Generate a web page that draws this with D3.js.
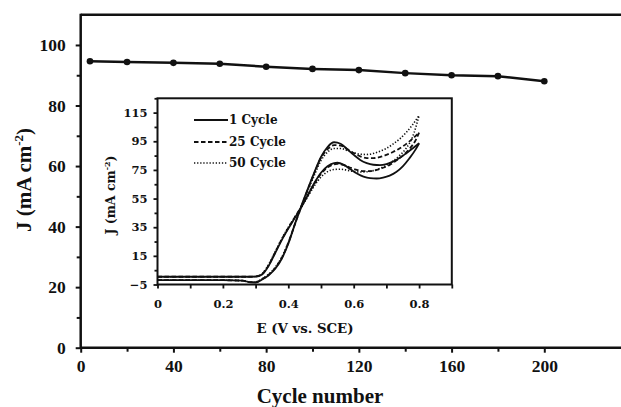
<!DOCTYPE html>
<html>
<head>
<meta charset="utf-8">
<script src="https://cdn.jsdelivr.net/npm/d3@7/dist/d3.min.js"></script>
<style>
html,body{margin:0;padding:0;background:#fff;}
svg{display:block;}
</style>
</head>
<body>
<svg id="chart" width="621" height="407"></svg>
<script>
// ---- Main chart data ----
const cycleNumbers = [4, 20, 40, 60, 80, 100, 120, 140, 160, 180, 200];
const currentDensity = [94.6, 94.4, 94.1, 93.8, 92.8, 92.1, 91.7, 90.7, 90.0, 89.7, 88.0];
const mainXTicks = [0, 40, 80, 120, 160, 200];
const mainYTicks = [0, 20, 40, 60, 80, 100];

// ---- Inset CV data (E in V vs SCE, J in mA cm-2) ----
const cycle1Forward = [[0,-2],[0.1,-2],[0.2,-2],[0.26,-2.3],[0.285,-3.5],[0.30,-3.6],[0.32,-1.5],[0.34,1.5],[0.36,6],[0.38,13],[0.40,23.5],[0.42,37],[0.44,50],[0.46,62],[0.48,73.5],[0.50,84],[0.52,91],[0.54,94.3],[0.56,93.3],[0.58,89.5],[0.60,85.5],[0.62,82],[0.64,79.8],[0.66,78.6],[0.68,78.3],[0.70,79],[0.72,80.8],[0.74,83.3],[0.76,86.5],[0.78,90],[0.80,93.6]];
const cycle1Reverse = [[0,0.4],[0.1,0.4],[0.2,0.4],[0.28,0.4],[0.30,0.5],[0.32,2],[0.34,8],[0.36,17],[0.38,26],[0.40,34],[0.42,41.5],[0.44,49],[0.46,57.5],[0.48,66],[0.50,73],[0.52,77.5],[0.54,79.8],[0.55,80],[0.57,78.5],[0.59,75.5],[0.61,72.5],[0.63,70.3],[0.65,69.2],[0.67,69],[0.69,69.6],[0.71,71],[0.73,73.5],[0.75,77.5],[0.77,83],[0.79,89.5],[0.80,93.6]];
const cycle25Forward = [[0,-2],[0.1,-2],[0.2,-2],[0.26,-2.3],[0.285,-3.4],[0.30,-3.4],[0.32,-1.2],[0.34,1.8],[0.36,6.5],[0.38,13.5],[0.40,24],[0.42,37],[0.44,49.5],[0.46,61.5],[0.48,73],[0.50,83.5],[0.52,89.5],[0.54,92.3],[0.56,92],[0.58,89.5],[0.60,86.8],[0.62,84.5],[0.64,83.3],[0.66,83.2],[0.68,84],[0.70,85.5],[0.72,87.5],[0.74,90],[0.76,93],[0.78,96.8],[0.80,101]];
const cycle25Reverse = [[0,0.4],[0.1,0.4],[0.2,0.4],[0.28,0.4],[0.30,0.6],[0.32,2.3],[0.34,8.5],[0.36,17.5],[0.38,26.5],[0.40,34.5],[0.42,42],[0.44,49.5],[0.46,57.5],[0.48,65.5],[0.50,72.3],[0.52,76.8],[0.54,78.9],[0.55,79.2],[0.57,78.3],[0.59,76.5],[0.61,75],[0.63,74.2],[0.65,74.2],[0.67,75],[0.69,76.5],[0.71,78.5],[0.73,81.5],[0.75,85],[0.77,89.5],[0.79,96],[0.80,101]];
const cycle50Forward = [[0,-2],[0.1,-2],[0.2,-2],[0.26,-2.3],[0.285,-3.3],[0.30,-3.2],[0.32,-1],[0.34,2.2],[0.36,7],[0.38,14],[0.40,24.5],[0.42,37],[0.44,49],[0.46,60.5],[0.48,71.5],[0.50,81.5],[0.52,87.5],[0.54,90],[0.56,90],[0.58,88.5],[0.60,87],[0.62,86],[0.64,85.8],[0.66,86.5],[0.68,88],[0.70,90],[0.72,93],[0.74,96.5],[0.76,101],[0.78,106.5],[0.80,113]];
const cycle50Reverse = [[0,0.4],[0.1,0.4],[0.2,0.4],[0.28,0.4],[0.30,0.7],[0.32,2.6],[0.34,9],[0.36,18],[0.38,27],[0.40,35],[0.42,42],[0.44,49],[0.46,56.5],[0.48,64],[0.50,70],[0.52,73.8],[0.54,75.3],[0.56,75.5],[0.58,74.8],[0.60,73.9],[0.62,73.5],[0.64,73.7],[0.66,74.5],[0.68,76],[0.70,78.2],[0.72,81.2],[0.74,85],[0.76,90],[0.78,98],[0.80,113]];
const insetXTicks = [0, 0.2, 0.4, 0.6, 0.8];
const insetYTicks = [-5, 15, 35, 55, 75, 95, 115];
const legendLabels = ["1 Cycle", "25 Cycle", "50 Cycle"];

const SERIF = "'Liberation Serif','Times New Roman',Times,serif";
const ISERIF = "'DejaVu Serif',serif";

const svg = d3.select("#chart");
svg.append("rect").attr("width",621).attr("height",407).attr("fill","#fff");

// ---- Main scales ----
const x = d3.scaleLinear().domain([0, 235]).range([80.7, 80.7 + 235 * 2.318]);
const y = d3.scaleLinear().domain([0, 110]).range([347.7, 14.7]);

const main = svg.append("g");
main.append("line").attr("x1", x(0)).attr("x2", 621).attr("y1", y(110)).attr("y2", y(110))
  .attr("stroke","#111").attr("stroke-width",2.5);

function styleText(sel, family, size){
  sel.attr("font-family",family).attr("font-weight","bold").attr("font-size",size).attr("fill","#111");
}

// x axis
const xAxis = d3.axisBottom(x).tickValues(mainXTicks).tickSize(5).tickFormat(d3.format("d"));
const gx = main.append("g").attr("transform",`translate(0,${y(0)})`).call(xAxis);
gx.select(".domain").attr("stroke","#111").attr("stroke-width",2.5).attr("d",`M${x(0)},0H621`);
gx.selectAll(".tick line").attr("stroke","#111").attr("stroke-width",2);
styleText(gx.selectAll(".tick text").attr("dy","0.95em"), SERIF, 17.5);
const xMinor = d3.axisBottom(x).tickValues([20,60,100,140,180]).tickSize(4).tickFormat("");
const gxm = main.append("g").attr("transform",`translate(0,${y(0)})`).call(xMinor);
gxm.select(".domain").remove();
gxm.selectAll(".tick line").attr("stroke","#111").attr("stroke-width",2);

// y axis
const yAxis = d3.axisLeft(y).tickValues(mainYTicks).tickSize(5).tickFormat(d3.format("d"));
const gy = main.append("g").attr("transform",`translate(${x(0)},0)`).call(yAxis);
gy.select(".domain").attr("stroke","#111").attr("stroke-width",2.5).attr("d",`M0,${y(0)+1}V${y(110)-1}`);
gy.selectAll(".tick line").attr("stroke","#111").attr("stroke-width",2);
styleText(gy.selectAll(".tick text").attr("x",-15), SERIF, 17.5);
const yMinor = d3.axisLeft(y).tickValues([10,30,50,70,90]).tickSize(4).tickFormat("");
const gym = main.append("g").attr("transform",`translate(${x(0)},0)`).call(yMinor);
gym.select(".domain").remove();
gym.selectAll(".tick line").attr("stroke","#111").attr("stroke-width",2);

// axis titles
const xt = svg.append("text").attr("x",320).attr("y",403).attr("text-anchor","middle").text("Cycle number");
styleText(xt, SERIF, 21);
const yt = svg.append("text").attr("transform","translate(31,180) rotate(-90)").attr("text-anchor","middle");
styleText(yt, SERIF, 21);
yt.append("tspan").text("J (mA cm");
yt.append("tspan").attr("font-size",13).attr("dy",-8).text("-2");
yt.append("tspan").attr("dy",8).text(")");

// main line + markers
const mainData = cycleNumbers.map((c,i)=>({c, j: currentDensity[i]}));
main.append("path").datum(mainData)
  .attr("fill","none").attr("stroke","#111").attr("stroke-width",2.5)
  .attr("d", d3.line().x(d=>x(d.c)).y(d=>y(d.j)));
main.selectAll("circle.pt").data(mainData).enter().append("circle")
  .attr("cx",d=>x(d.c)).attr("cy",d=>y(d.j)).attr("r",3.3).attr("fill","#111");

// ---- Inset ----
const ix = d3.scaleLinear().domain([0, 0.9]).range([157.5, 451.8]);
const iy = d3.scaleLinear().domain([-5, 125]).range([284.5, 98.3]);
const inset = svg.append("g");
inset.append("rect").attr("x",ix(0)).attr("y",iy(125)).attr("width",ix(0.9)-ix(0)).attr("height",iy(-5)-iy(125))
  .attr("fill","#fff").attr("stroke","#111").attr("stroke-width",2);

const ixAxis = d3.axisBottom(ix).tickValues(insetXTicks).tickSize(4).tickFormat(d=> d===0 ? "0" : d3.format(".1f")(d));
const gix = inset.append("g").attr("transform",`translate(0,${iy(-5)})`).call(ixAxis);
gix.select(".domain").remove();
gix.selectAll(".tick line").attr("stroke","#111").attr("stroke-width",1.8);
styleText(gix.selectAll(".tick text").attr("dy","1.45em"), ISERIF, 11.5);
const ixMinor = d3.axisBottom(ix).tickValues([0.1,0.3,0.5,0.7,0.9]).tickSize(4).tickFormat("");
const gixm = inset.append("g").attr("transform",`translate(0,${iy(-5)})`).call(ixMinor);
gixm.select(".domain").remove();
gixm.selectAll(".tick line").attr("stroke","#111").attr("stroke-width",1.8);

const iyAxis = d3.axisLeft(iy).tickValues(insetYTicks).tickSize(4);
const giy = inset.append("g").attr("transform",`translate(${ix(0)},0)`).call(iyAxis);
giy.select(".domain").remove();
giy.selectAll(".tick line").attr("stroke","#111").attr("stroke-width",1.8);
styleText(giy.selectAll(".tick text").attr("x",-10), ISERIF, 11.5);
const iyMinor = d3.axisLeft(iy).tickValues([5,25,45,65,85,105,125]).tickSize(3).tickFormat("");
const giym = inset.append("g").attr("transform",`translate(${ix(0)},0)`).call(iyMinor);
giym.select(".domain").remove();
giym.selectAll(".tick line").attr("stroke","#111").attr("stroke-width",1.8);

// inset titles
const ixt = svg.append("text").attr("x",305).attr("y",333).attr("text-anchor","middle").text("E (V vs. SCE)");
styleText(ixt, ISERIF, 13.3);
const iyt = svg.append("text").attr("transform","translate(115,195) rotate(-90)").attr("text-anchor","middle");
styleText(iyt, ISERIF, 12.5);
iyt.append("tspan").text("J (mA cm");
iyt.append("tspan").attr("font-size",8).attr("dy",-5).text("-2");
iyt.append("tspan").attr("dy",5).text(")");

// CV curves
const cvLine = d3.line().x(d=>ix(d[0])).y(d=>iy(d[1])).curve(d3.curveMonotoneX);
const styles = [
  {dash:null, w:1.8},
  {dash:"4.5,2.5", w:1.8},
  {dash:"1.3,1.8", w:1.6}
];
const curves = [
  [cycle1Forward, cycle1Reverse],
  [cycle25Forward, cycle25Reverse],
  [cycle50Forward, cycle50Reverse]
];
curves.forEach((pair,k)=>{
  pair.forEach(branch=>{
    inset.append("path").datum(branch)
      .attr("fill","none").attr("stroke","#111").attr("stroke-width",styles[k].w)
      .attr("stroke-dasharray",styles[k].dash)
      .attr("d",cvLine);
  });
});

// legend
const legY = [120, 142, 163];
legendLabels.forEach((lab,k)=>{
  inset.append("line").attr("x1",194).attr("x2",228).attr("y1",legY[k]).attr("y2",legY[k])
    .attr("stroke","#111").attr("stroke-width",styles[k].w).attr("stroke-dasharray",styles[k].dash);
  const t = inset.append("text").attr("x",229).attr("y",legY[k]+4.2).text(lab);
  styleText(t, ISERIF, 12);
});
</script>
</body>
</html>
